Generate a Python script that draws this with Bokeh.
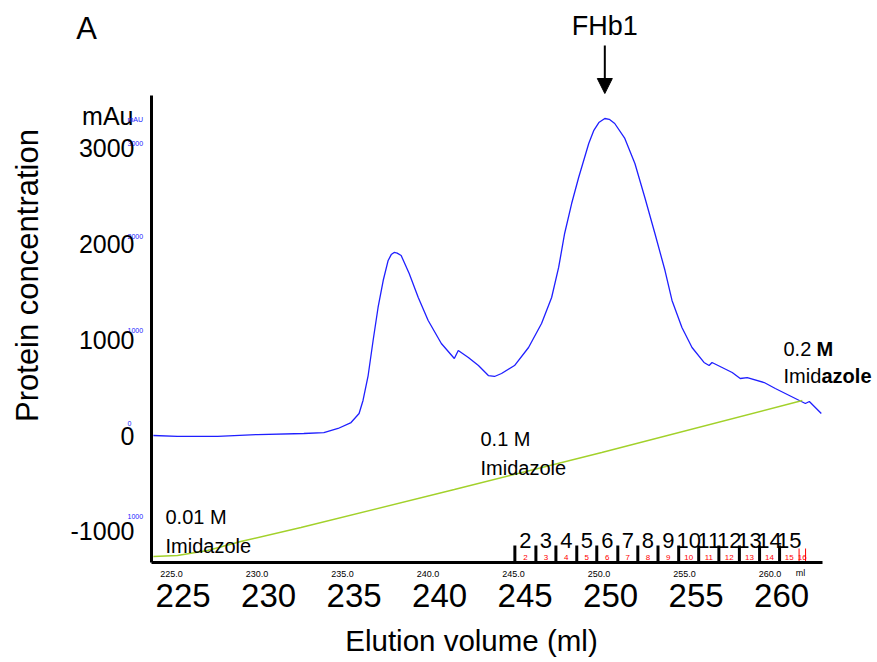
import math
from bokeh.plotting import figure
from bokeh.models import (Range1d, LinearAxis, Arrow, NormalHead, FixedTicker,
                          NumeralTickFormatter)
from bokeh.core.properties import value
from bokeh.embed import file_html
from bokeh.resources import INLINE

FONT = "Liberation Sans"

# ---------------- data ----------------
elution_ml = [223.94, 225.35, 227.70, 230.04, 232.74, 233.91, 234.74, 235.50, 235.97,
              236.20, 236.50, 236.79, 237.08, 237.38, 237.67, 237.85, 238.02, 238.20,
              238.43, 238.90, 239.43, 240.01, 240.78, 241.54, 241.77, 242.36, 242.95,
              243.53, 243.89, 244.30, 245.06, 245.88, 246.64, 247.23, 247.64, 247.99,
              248.40, 248.81, 249.40, 249.70, 249.99, 250.34, 250.60, 250.92, 251.51,
              252.10, 252.68, 253.27, 253.86, 254.27, 254.85, 255.44, 256.14, 256.44,
              256.61, 257.20, 257.79, 258.26, 258.67, 259.66, 260.31, 261.13, 262.07,
              262.30, 263.00]
absorbance_mau = [0, -10, -10, 10, 21, 31, 73, 135, 229,
                  365, 625, 990, 1334, 1615, 1824, 1885, 1907, 1900,
                  1876, 1688, 1438, 1198, 959, 802, 886, 813, 729,
                  625, 615, 646, 729, 917, 1167, 1438, 1751, 2105,
                  2417, 2688, 3043, 3180, 3261, 3303, 3295, 3251, 3095,
                  2834, 2480, 2105, 1719, 1407, 1125, 917, 761, 729,
                  761, 709, 656, 594, 604, 552, 490, 417, 333,
                  354, 229]

gradient_ml = [223.94, 225.35, 227.11, 229.05, 232.57, 241.54, 250.16, 261.89]
gradient_level = [-1261, -1250, -1198, -1105, -959, -563, -177, 365]

fraction_bounds_ml = [245.08, 246.31, 247.48, 248.70, 249.87, 251.10, 252.27, 253.45,
                      254.66, 255.83, 257.01, 258.21, 259.39, 260.56, 261.70, 262.08]
fraction_labels = ["2", "3", "4", "5", "6", "7", "8", "9", "10", "11", "12", "13",
                   "14", "15", "16"]

x_ticks = [225, 230, 235, 240, 245, 250, 255, 260]
y_ticks = [-1000, 0, 1000, 2000, 3000]
blue_tick_text = ["mAU", "3000", "2000", "1000", "0", "1000"]
blue_tick_pos = [3293, 3043, 2069, 1097, 125, -847]

# ---------------- layout constants ----------------
PX = 17.1            # px per ml
X0 = 225 - 171 / PX  # canvas left edge in ml
X1 = 225 + 706 / PX  # canvas right edge in ml
YS = 10.42           # mAU per px
Y0 = -227 * YS       # canvas bottom
Y1 = 435 * YS        # canvas top
AX_L = 225 - 20 / PX   # y-axis location (ml)
AX_R = 225 + 651 / PX  # x-axis right end (ml)
AX_B = -127 * YS       # x-axis location (mAU)
AX_T = 340 * YS        # y-axis top (mAU)
BIG_SHIFT = 0.68


def px_x(px):
    return X0 + px / PX


def px_y(py):
    return (435 - py) * YS


p = figure(width=877, height=662, x_range=Range1d(X0, X1), y_range=Range1d(Y0, Y1),
           output_backend="svg", toolbar_location=None,
           x_axis_type=None, y_axis_type=None,
           min_border_left=0, min_border_right=0, min_border_top=0, min_border_bottom=0)
p.outline_line_color = None
p.background_fill_color = "white"
p.border_fill_color = "white"

# small original x axis
xa = LinearAxis(ticker=FixedTicker(ticks=x_ticks), formatter=NumeralTickFormatter(format="0.0"),
                fixed_location=AX_B, bounds=(AX_L, AX_R),
                axis_line_width=3, axis_line_color="black",
                major_tick_line_color=None, minor_tick_line_color=None,
                major_label_text_font_size="9px", major_label_standoff=2,
                major_label_text_font=FONT, major_label_text_color="black")
p.add_layout(xa, "below")

# big x labels
p.extra_x_ranges = {"big": Range1d(X0 - BIG_SHIFT, X1 - BIG_SHIFT)}
xb = LinearAxis(x_range_name="big", ticker=FixedTicker(ticks=x_ticks),
                fixed_location=px_y(575),
                axis_line_color=None, major_tick_line_color=None, minor_tick_line_color=None,
                major_label_text_font_size="33px", major_label_standoff=2,
                major_label_text_font=FONT, major_label_text_color="black")
p.add_layout(xb, "below")

ya = LinearAxis(ticker=FixedTicker(ticks=y_ticks), formatter=NumeralTickFormatter(format="0"),
                fixed_location=AX_L, bounds=(AX_B, AX_T),
                axis_line_width=3, axis_line_color="black",
                major_tick_line_color=None, minor_tick_line_color=None,
                major_label_text_font_size="25px", major_label_standoff=11,
                major_label_text_font=FONT, major_label_text_color="black")
p.add_layout(ya, "left")

# curves
p.line(elution_ml, absorbance_mau, line_color="#1f1fff", line_width=1.3)
p.line(gradient_ml, gradient_level, line_color="#a2d12a", line_width=1.4)

# fraction marks
black_b = fraction_bounds_ml[:14]
red_b = fraction_bounds_ml[14:]
p.segment(x0=black_b, y0=[px_y(545)] * len(black_b), x1=black_b, y1=[AX_B] * len(black_b),
          line_color="black", line_width=3)
p.segment(x0=red_b, y0=[px_y(548)] * len(red_b), x1=red_b, y1=[AX_B] * len(red_b),
          line_color="red", line_width=1)
mids = [(a + b) / 2 for a, b in zip(fraction_bounds_ml[:-1], fraction_bounds_ml[1:])]
p.text(x=mids[:14], y=[px_y(540)] * 14, text=fraction_labels[:14], text_font=value(FONT),
       text_font_size="22px", text_align="center", text_baseline="middle", text_color="black")
p.text(x=mids, y=[px_y(557)] * len(mids), text=fraction_labels, text_font=value(FONT),
       text_font_size="8px", text_align="center", text_baseline="middle", text_color="red")

# imidazole labels
p.text(x=[px_x(165), px_x(480)], y=[px_y(531), px_y(453)],
       text=["0.01 M\nImidazole", "0.1 M\nImidazole"],
       text_font=value(FONT), text_font_size="20px", text_align="left",
       text_baseline="middle", text_color="black", text_line_height=1.3)
# 0.2 M label (partly bold in the original)
p.text(x=[px_x(783)] * 2, y=[px_y(348), px_y(375)], text=["0.2 ", "Imid"],
       text_font=value(FONT), text_font_size="20px", text_align="left",
       text_baseline="middle", text_color="black")
p.text(x=[px_x(783)] * 2, y=[px_y(348), px_y(375)], text=["M", "azole"],
       x_offset=[33, 38], text_font=value(FONT), text_font_size="20px",
       text_font_style="bold", text_align="left", text_baseline="middle", text_color="black")

# FHb1 marker
p.text(x=[250.34], y=[px_y(25)], text=["FHb1"], text_font=value(FONT), text_font_size="27px",
       text_align="center", text_baseline="middle", text_color="black")
p.add_layout(Arrow(x_start=250.34, y_start=px_y(45), x_end=250.34, y_end=px_y(93),
                   line_color="black", line_width=2,
                   end=NormalHead(size=15, fill_color="black", line_color="black")))

# other texts
p.text(x=[px_x(86)], y=[px_y(28)], text=["A"], text_font=value(FONT), text_font_size="31px",
       text_align="center", text_baseline="middle", text_color="black")
p.text(x=[px_x(133)], y=[px_y(115)], text=["mAu"], text_font=value(FONT), text_font_size="25px",
       text_align="right", text_baseline="middle", text_color="black")
p.text(x=[px_x(27)], y=[px_y(275)], text=["Protein concentration"], angle=math.pi / 2,
       text_font=value(FONT), text_font_size="31px", text_align="center",
       text_baseline="middle", text_color="black")
p.text(x=[px_x(471)], y=[px_y(640)], text=["Elution volume (ml)"], text_font=value(FONT),
       text_font_size="29.5px", text_align="center", text_baseline="middle", text_color="black")
p.text(x=[px_x(800)], y=[px_y(572)], text=["ml"], text_font=value(FONT), text_font_size="9px",
       text_align="center", text_baseline="middle", text_color="black")
p.text(x=[px_x(127)] * len(blue_tick_text), y=blue_tick_pos, text=blue_tick_text,
       text_font=value(FONT), text_font_size="7px", text_align="left",
       text_baseline="middle", text_color="#2020ff")

open("out.html", "w").write(file_html(p, INLINE))
